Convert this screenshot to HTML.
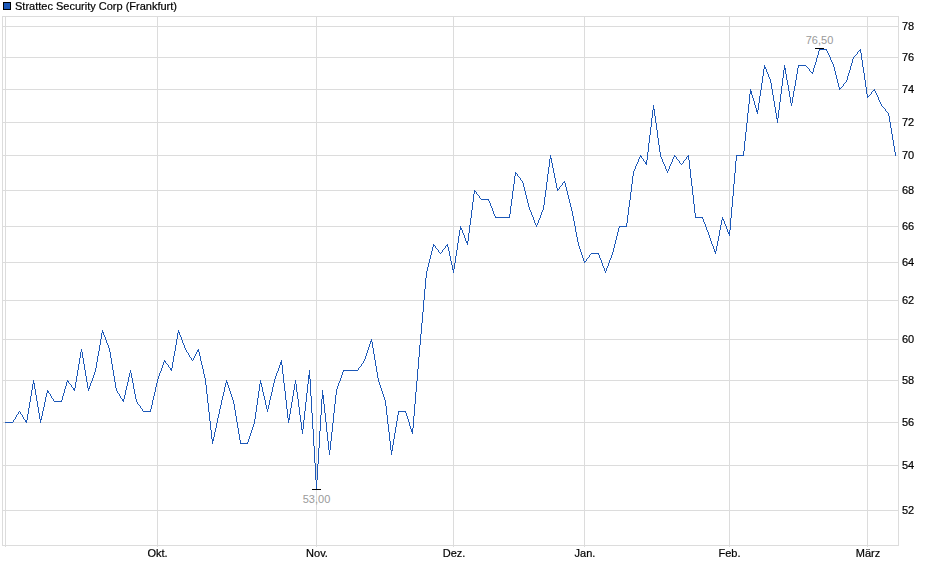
<!DOCTYPE html><html><head><meta charset="utf-8"><title>Strattec Security Corp (Frankfurt)</title>
<style>html,body{margin:0;padding:0;background:#fff;overflow:hidden}svg{display:block}text{font-family:"Liberation Sans",sans-serif;font-size:11px;fill:#000}</style></head><body>
<svg width="940" height="579" viewBox="0 0 940 579">
<rect x="0" y="0" width="940" height="579" fill="#fff"/>
<g shape-rendering="crispEdges" fill="#dcdcdc">
<rect x="3" y="510" width="895" height="1"/>
<rect x="3" y="465" width="895" height="1"/>
<rect x="3" y="422" width="895" height="1"/>
<rect x="3" y="380" width="895" height="1"/>
<rect x="3" y="339" width="895" height="1"/>
<rect x="3" y="300" width="895" height="1"/>
<rect x="3" y="262" width="895" height="1"/>
<rect x="3" y="226" width="895" height="1"/>
<rect x="3" y="190" width="895" height="1"/>
<rect x="3" y="155" width="895" height="1"/>
<rect x="3" y="122" width="895" height="1"/>
<rect x="3" y="89" width="895" height="1"/>
<rect x="3" y="57" width="895" height="1"/>
<rect x="3" y="26" width="895" height="1"/>
<rect x="5" y="17" width="1" height="530"/>
<rect x="157" y="17" width="1" height="530"/>
<rect x="316" y="17" width="1" height="530"/>
<rect x="453" y="17" width="1" height="530"/>
<rect x="584" y="17" width="1" height="530"/>
<rect x="729" y="17" width="1" height="530"/>
<rect x="867" y="17" width="1" height="530"/>
<rect x="2" y="16" width="897" height="1"/><rect x="2" y="545" width="897" height="1"/><rect x="2" y="16" width="1" height="530"/><rect x="898" y="16" width="1" height="530"/>
</g>
<path shape-rendering="crispEdges" fill="#1c58b8" d="M5 422h1v1h-1zM6 422h1v1h-1zM7 422h1v1h-1zM8 422h1v1h-1zM9 422h1v1h-1zM10 422h1v1h-1zM11 422h1v1h-1zM12 422h1v1h-1zM13 420h1v2h-1zM14 419h1v1h-1zM15 417h1v2h-1zM16 415h1v2h-1zM17 414h1v1h-1zM18 412h1v2h-1zM19 411h1v1h-1zM20 412h1v2h-1zM21 414h1v1h-1zM22 415h1v2h-1zM23 417h1v2h-1zM24 419h1v1h-1zM25 420h1v2h-1zM26 420h1v3h-1zM27 414h1v6h-1zM28 408h1v6h-1zM29 402h1v6h-1zM30 396h1v6h-1zM31 390h1v6h-1zM32 384h1v6h-1zM33 380h1v4h-1zM34 383h1v6h-1zM35 389h1v6h-1zM36 395h1v6h-1zM37 401h1v6h-1zM38 407h1v6h-1zM39 413h1v6h-1zM40 419h1v4h-1zM41 416h1v4h-1zM42 411h1v5h-1zM43 407h1v4h-1zM44 402h1v5h-1zM45 397h1v5h-1zM46 393h1v4h-1zM47 390h1v3h-1zM48 391h1v2h-1zM49 393h1v1h-1zM50 394h1v2h-1zM51 396h1v2h-1zM52 398h1v1h-1zM53 399h1v2h-1zM54 401h1v1h-1zM55 401h1v1h-1zM56 401h1v1h-1zM57 401h1v1h-1zM58 401h1v1h-1zM59 401h1v1h-1zM60 401h1v1h-1zM61 400h1v2h-1zM62 396h1v4h-1zM63 393h1v3h-1zM64 389h1v4h-1zM65 386h1v3h-1zM66 382h1v4h-1zM67 380h1v2h-1zM68 381h1v2h-1zM69 383h1v1h-1zM70 384h1v1h-1zM71 385h1v2h-1zM72 387h1v1h-1zM73 388h1v2h-1zM74 388h1v3h-1zM75 382h1v6h-1zM76 376h1v6h-1zM77 370h1v6h-1zM78 364h1v6h-1zM79 358h1v6h-1zM80 352h1v6h-1zM81 349h1v3h-1zM82 352h1v6h-1zM83 358h1v6h-1zM84 364h1v6h-1zM85 370h1v6h-1zM86 376h1v6h-1zM87 382h1v6h-1zM88 388h1v3h-1zM89 386h1v3h-1zM90 383h1v3h-1zM91 381h1v2h-1zM92 378h1v3h-1zM93 375h1v3h-1zM94 372h1v3h-1zM95 368h1v4h-1zM96 362h1v6h-1zM97 356h1v6h-1zM98 351h1v5h-1zM99 345h1v6h-1zM100 339h1v6h-1zM101 333h1v6h-1zM102 330h1v3h-1zM103 332h1v3h-1zM104 335h1v2h-1zM105 337h1v3h-1zM106 340h1v3h-1zM107 343h1v2h-1zM108 345h1v3h-1zM109 348h1v4h-1zM110 352h1v6h-1zM111 358h1v6h-1zM112 364h1v6h-1zM113 370h1v6h-1zM114 376h1v6h-1zM115 382h1v6h-1zM116 388h1v3h-1zM117 391h1v2h-1zM118 393h1v1h-1zM119 394h1v2h-1zM120 396h1v2h-1zM121 398h1v1h-1zM122 399h1v2h-1zM123 399h1v3h-1zM124 395h1v4h-1zM125 390h1v5h-1zM126 386h1v4h-1zM127 382h1v4h-1zM128 377h1v5h-1zM129 373h1v4h-1zM130 370h1v3h-1zM131 373h1v5h-1zM132 378h1v5h-1zM133 383h1v6h-1zM134 389h1v5h-1zM135 394h1v5h-1zM136 399h1v3h-1zM137 402h1v2h-1zM138 404h1v1h-1zM139 405h1v1h-1zM140 406h1v2h-1zM141 408h1v1h-1zM142 409h1v2h-1zM143 411h1v1h-1zM144 411h1v1h-1zM145 411h1v1h-1zM146 411h1v1h-1zM147 411h1v1h-1zM148 411h1v1h-1zM149 411h1v1h-1zM150 409h1v3h-1zM151 405h1v4h-1zM152 400h1v5h-1zM153 396h1v4h-1zM154 392h1v4h-1zM155 387h1v5h-1zM156 383h1v4h-1zM157 379h1v4h-1zM158 376h1v3h-1zM159 373h1v3h-1zM160 371h1v2h-1zM161 368h1v3h-1zM162 365h1v3h-1zM163 362h1v3h-1zM164 360h1v2h-1zM165 361h1v2h-1zM166 363h1v1h-1zM167 364h1v1h-1zM168 365h1v2h-1zM169 367h1v1h-1zM170 368h1v2h-1zM171 368h1v3h-1zM172 362h1v6h-1zM173 356h1v6h-1zM174 351h1v5h-1zM175 345h1v6h-1zM176 339h1v6h-1zM177 333h1v6h-1zM178 330h1v3h-1zM179 332h1v3h-1zM180 335h1v2h-1zM181 337h1v3h-1zM182 340h1v3h-1zM183 343h1v2h-1zM184 345h1v3h-1zM185 348h1v2h-1zM186 350h1v2h-1zM187 352h1v1h-1zM188 353h1v2h-1zM189 355h1v2h-1zM190 357h1v1h-1zM191 358h1v2h-1zM192 360h1v1h-1zM193 358h1v2h-1zM194 356h1v2h-1zM195 354h1v2h-1zM196 352h1v2h-1zM197 350h1v2h-1zM198 349h1v3h-1zM199 352h1v4h-1zM200 356h1v5h-1zM201 361h1v4h-1zM202 365h1v4h-1zM203 369h1v5h-1zM204 374h1v4h-1zM205 378h1v7h-1zM206 385h1v9h-1zM207 394h1v9h-1zM208 403h1v9h-1zM209 412h1v9h-1zM210 421h1v9h-1zM211 430h1v9h-1zM212 439h1v5h-1zM213 437h1v4h-1zM214 432h1v5h-1zM215 428h1v4h-1zM216 423h1v5h-1zM217 418h1v5h-1zM218 414h1v4h-1zM219 409h1v5h-1zM220 405h1v4h-1zM221 400h1v5h-1zM222 396h1v4h-1zM223 392h1v4h-1zM224 387h1v5h-1zM225 383h1v4h-1zM226 380h1v3h-1zM227 382h1v3h-1zM228 385h1v3h-1zM229 388h1v3h-1zM230 391h1v3h-1zM231 394h1v3h-1zM232 397h1v3h-1zM233 400h1v4h-1zM234 404h1v6h-1zM235 410h1v6h-1zM236 416h1v6h-1zM237 422h1v6h-1zM238 428h1v6h-1zM239 434h1v6h-1zM240 440h1v4h-1zM241 443h1v1h-1zM242 443h1v1h-1zM243 443h1v1h-1zM244 443h1v1h-1zM245 443h1v1h-1zM246 443h1v1h-1zM247 442h1v2h-1zM248 439h1v3h-1zM249 436h1v3h-1zM250 433h1v3h-1zM251 430h1v3h-1zM252 427h1v3h-1zM253 424h1v3h-1zM254 419h1v5h-1zM255 412h1v7h-1zM256 405h1v7h-1zM257 398h1v7h-1zM258 391h1v7h-1zM259 384h1v7h-1zM260 380h1v4h-1zM261 383h1v4h-1zM262 387h1v5h-1zM263 392h1v4h-1zM264 396h1v4h-1zM265 400h1v5h-1zM266 405h1v4h-1zM267 409h1v3h-1zM268 405h1v4h-1zM269 400h1v5h-1zM270 396h1v4h-1zM271 392h1v4h-1zM272 387h1v5h-1zM273 383h1v4h-1zM274 379h1v4h-1zM275 376h1v3h-1zM276 373h1v3h-1zM277 371h1v2h-1zM278 368h1v3h-1zM279 365h1v3h-1zM280 362h1v3h-1zM281 360h1v5h-1zM282 365h1v9h-1zM283 374h1v9h-1zM284 383h1v8h-1zM285 391h1v9h-1zM286 400h1v9h-1zM287 409h1v9h-1zM288 418h1v5h-1zM289 414h1v6h-1zM290 408h1v6h-1zM291 402h1v6h-1zM292 396h1v6h-1zM293 390h1v6h-1zM294 384h1v6h-1zM295 380h1v4h-1zM296 384h1v8h-1zM297 392h1v7h-1zM298 399h1v8h-1zM299 407h1v8h-1zM300 415h1v7h-1zM301 422h1v8h-1zM302 429h1v5h-1zM303 420h1v9h-1zM304 411h1v9h-1zM305 402h1v9h-1zM306 393h1v9h-1zM307 384h1v9h-1zM308 375h1v9h-1zM309 370h1v9h-1zM310 379h1v17h-1zM311 396h1v17h-1zM312 413h1v16h-1zM313 429h1v17h-1zM314 446h1v17h-1zM315 463h1v17h-1zM316 480h1v9h-1zM317 464h1v16h-1zM318 448h1v16h-1zM319 431h1v17h-1zM320 415h1v16h-1zM321 399h1v16h-1zM322 390h1v9h-1zM323 395h1v9h-1zM324 404h1v9h-1zM325 413h1v9h-1zM326 422h1v10h-1zM327 432h1v9h-1zM328 441h1v9h-1zM329 450h1v5h-1zM330 441h1v9h-1zM331 432h1v9h-1zM332 423h1v9h-1zM333 413h1v10h-1zM334 404h1v9h-1zM335 395h1v9h-1zM336 389h1v6h-1zM337 386h1v3h-1zM338 383h1v3h-1zM339 381h1v2h-1zM340 378h1v3h-1zM341 375h1v3h-1zM342 372h1v3h-1zM343 370h1v2h-1zM344 370h1v1h-1zM345 370h1v1h-1zM346 370h1v1h-1zM347 370h1v1h-1zM348 370h1v1h-1zM349 370h1v1h-1zM350 370h1v1h-1zM351 370h1v1h-1zM352 370h1v1h-1zM353 370h1v1h-1zM354 370h1v1h-1zM355 370h1v1h-1zM356 370h1v1h-1zM357 370h1v1h-1zM358 368h1v2h-1zM359 367h1v1h-1zM360 366h1v1h-1zM361 364h1v2h-1zM362 363h1v1h-1zM363 361h1v2h-1zM364 359h1v2h-1zM365 356h1v3h-1zM366 353h1v3h-1zM367 350h1v3h-1zM368 347h1v3h-1zM369 344h1v3h-1zM370 341h1v3h-1zM371 339h1v3h-1zM372 342h1v6h-1zM373 348h1v6h-1zM374 354h1v6h-1zM375 360h1v6h-1zM376 366h1v6h-1zM377 372h1v6h-1zM378 378h1v4h-1zM379 382h1v3h-1zM380 385h1v3h-1zM381 388h1v3h-1zM382 391h1v3h-1zM383 394h1v3h-1zM384 397h1v3h-1zM385 400h1v6h-1zM386 406h1v9h-1zM387 415h1v9h-1zM388 424h1v8h-1zM389 432h1v9h-1zM390 441h1v9h-1zM391 450h1v5h-1zM392 445h1v6h-1zM393 439h1v6h-1zM394 433h1v6h-1zM395 427h1v6h-1zM396 421h1v6h-1zM397 415h1v6h-1zM398 411h1v4h-1zM399 411h1v1h-1zM400 411h1v1h-1zM401 411h1v1h-1zM402 411h1v1h-1zM403 411h1v1h-1zM404 411h1v1h-1zM405 411h1v2h-1zM406 413h1v3h-1zM407 416h1v3h-1zM408 419h1v3h-1zM409 422h1v4h-1zM410 426h1v3h-1zM411 429h1v3h-1zM412 428h1v6h-1zM413 416h1v12h-1zM414 404h1v12h-1zM415 392h1v12h-1zM416 381h1v11h-1zM417 369h1v12h-1zM418 357h1v12h-1zM419 345h1v12h-1zM420 334h1v11h-1zM421 323h1v11h-1zM422 312h1v11h-1zM423 300h1v12h-1zM424 289h1v11h-1zM425 278h1v11h-1zM426 271h1v7h-1zM427 267h1v4h-1zM428 263h1v4h-1zM429 259h1v4h-1zM430 255h1v4h-1zM431 251h1v4h-1zM432 247h1v4h-1zM433 244h1v3h-1zM434 245h1v1h-1zM435 246h1v2h-1zM436 248h1v1h-1zM437 249h1v1h-1zM438 250h1v2h-1zM439 252h1v1h-1zM440 253h1v1h-1zM441 252h1v1h-1zM442 250h1v2h-1zM443 249h1v1h-1zM444 248h1v1h-1zM445 246h1v2h-1zM446 245h1v1h-1zM447 244h1v3h-1zM448 247h1v4h-1zM449 251h1v5h-1zM450 256h1v5h-1zM451 261h1v4h-1zM452 265h1v5h-1zM453 269h1v4h-1zM454 263h1v6h-1zM455 256h1v7h-1zM456 250h1v6h-1zM457 243h1v7h-1zM458 236h1v7h-1zM459 230h1v6h-1zM460 226h1v4h-1zM461 228h1v2h-1zM462 230h1v3h-1zM463 233h1v2h-1zM464 235h1v3h-1zM465 238h1v3h-1zM466 241h1v2h-1zM467 241h1v4h-1zM468 233h1v8h-1zM469 225h1v8h-1zM470 218h1v7h-1zM471 210h1v8h-1zM472 202h1v8h-1zM473 194h1v8h-1zM474 190h1v4h-1zM475 191h1v1h-1zM476 192h1v2h-1zM477 194h1v1h-1zM478 195h1v1h-1zM479 196h1v2h-1zM480 198h1v1h-1zM481 199h1v1h-1zM482 199h1v1h-1zM483 199h1v1h-1zM484 199h1v1h-1zM485 199h1v1h-1zM486 199h1v1h-1zM487 199h1v1h-1zM488 199h1v2h-1zM489 201h1v2h-1zM490 203h1v3h-1zM491 206h1v2h-1zM492 208h1v3h-1zM493 211h1v3h-1zM494 214h1v2h-1zM495 216h1v2h-1zM496 217h1v1h-1zM497 217h1v1h-1zM498 217h1v1h-1zM499 217h1v1h-1zM500 217h1v1h-1zM501 217h1v1h-1zM502 217h1v1h-1zM503 217h1v1h-1zM504 217h1v1h-1zM505 217h1v1h-1zM506 217h1v1h-1zM507 217h1v1h-1zM508 217h1v1h-1zM509 214h1v4h-1zM510 206h1v8h-1zM511 199h1v7h-1zM512 191h1v8h-1zM513 184h1v7h-1zM514 176h1v8h-1zM515 172h1v4h-1zM516 173h1v1h-1zM517 174h1v2h-1zM518 176h1v1h-1zM519 177h1v1h-1zM520 178h1v2h-1zM521 180h1v1h-1zM522 181h1v2h-1zM523 183h1v4h-1zM524 187h1v4h-1zM525 191h1v4h-1zM526 195h1v4h-1zM527 199h1v4h-1zM528 203h1v4h-1zM529 207h1v3h-1zM530 210h1v2h-1zM531 212h1v3h-1zM532 215h1v2h-1zM533 217h1v3h-1zM534 220h1v3h-1zM535 223h1v2h-1zM536 225h1v2h-1zM537 223h1v2h-1zM538 220h1v3h-1zM539 218h1v2h-1zM540 215h1v3h-1zM541 212h1v3h-1zM542 210h1v2h-1zM543 205h1v5h-1zM544 197h1v8h-1zM545 190h1v7h-1zM546 182h1v8h-1zM547 174h1v8h-1zM548 167h1v7h-1zM549 159h1v8h-1zM550 155h1v4h-1zM551 158h1v5h-1zM552 163h1v5h-1zM553 168h1v5h-1zM554 173h1v5h-1zM555 178h1v5h-1zM556 183h1v5h-1zM557 188h1v3h-1zM558 189h1v1h-1zM559 187h1v2h-1zM560 186h1v1h-1zM561 185h1v1h-1zM562 183h1v2h-1zM563 182h1v1h-1zM564 181h1v2h-1zM565 183h1v4h-1zM566 187h1v4h-1zM567 191h1v4h-1zM568 195h1v4h-1zM569 199h1v4h-1zM570 203h1v4h-1zM571 207h1v4h-1zM572 211h1v5h-1zM573 216h1v5h-1zM574 221h1v5h-1zM575 226h1v6h-1zM576 232h1v5h-1zM577 237h1v5h-1zM578 242h1v4h-1zM579 246h1v3h-1zM580 249h1v3h-1zM581 252h1v3h-1zM582 255h1v3h-1zM583 258h1v3h-1zM584 261h1v2h-1zM585 261h1v1h-1zM586 259h1v2h-1zM587 258h1v1h-1zM588 257h1v1h-1zM589 255h1v2h-1zM590 254h1v1h-1zM591 253h1v1h-1zM592 253h1v1h-1zM593 253h1v1h-1zM594 253h1v1h-1zM595 253h1v1h-1zM596 253h1v1h-1zM597 253h1v1h-1zM598 253h1v2h-1zM599 255h1v3h-1zM600 258h1v2h-1zM601 260h1v3h-1zM602 263h1v3h-1zM603 266h1v2h-1zM604 268h1v3h-1zM605 271h1v2h-1zM606 268h1v3h-1zM607 266h1v2h-1zM608 263h1v3h-1zM609 260h1v3h-1zM610 258h1v2h-1zM611 255h1v3h-1zM612 252h1v3h-1zM613 248h1v4h-1zM614 244h1v4h-1zM615 240h1v4h-1zM616 236h1v4h-1zM617 232h1v4h-1zM618 228h1v4h-1zM619 226h1v2h-1zM620 226h1v1h-1zM621 226h1v1h-1zM622 226h1v1h-1zM623 226h1v1h-1zM624 226h1v1h-1zM625 226h1v1h-1zM626 223h1v4h-1zM627 215h1v8h-1zM628 207h1v8h-1zM629 200h1v7h-1zM630 192h1v8h-1zM631 184h1v8h-1zM632 176h1v8h-1zM633 171h1v5h-1zM634 169h1v2h-1zM635 166h1v3h-1zM636 164h1v2h-1zM637 162h1v2h-1zM638 159h1v3h-1zM639 157h1v2h-1zM640 155h1v2h-1zM641 156h1v2h-1zM642 158h1v1h-1zM643 159h1v2h-1zM644 161h1v1h-1zM645 162h1v2h-1zM646 160h1v5h-1zM647 152h1v8h-1zM648 143h1v9h-1zM649 135h1v8h-1zM650 127h1v8h-1zM651 118h1v9h-1zM652 110h1v8h-1zM653 105h1v5h-1zM654 109h1v7h-1zM655 116h1v7h-1zM656 123h1v7h-1zM657 130h1v8h-1zM658 138h1v7h-1zM659 145h1v7h-1zM660 152h1v5h-1zM661 157h1v2h-1zM662 159h1v3h-1zM663 162h1v2h-1zM664 164h1v2h-1zM665 166h1v3h-1zM666 169h1v2h-1zM667 171h1v2h-1zM668 169h1v2h-1zM669 166h1v3h-1zM670 164h1v2h-1zM671 162h1v2h-1zM672 159h1v3h-1zM673 157h1v2h-1zM674 155h1v2h-1zM675 156h1v1h-1zM676 157h1v2h-1zM677 159h1v1h-1zM678 160h1v1h-1zM679 161h1v2h-1zM680 163h1v1h-1zM681 164h1v1h-1zM682 163h1v1h-1zM683 161h1v2h-1zM684 160h1v1h-1zM685 159h1v1h-1zM686 157h1v2h-1zM687 156h1v1h-1zM688 155h1v5h-1zM689 160h1v9h-1zM690 169h1v9h-1zM691 178h1v8h-1zM692 186h1v9h-1zM693 195h1v9h-1zM694 204h1v9h-1zM695 213h1v5h-1zM696 217h1v1h-1zM697 217h1v1h-1zM698 217h1v1h-1zM699 217h1v1h-1zM700 217h1v1h-1zM701 217h1v1h-1zM702 217h1v2h-1zM703 219h1v3h-1zM704 222h1v2h-1zM705 224h1v3h-1zM706 227h1v3h-1zM707 230h1v2h-1zM708 232h1v3h-1zM709 235h1v3h-1zM710 238h1v3h-1zM711 241h1v3h-1zM712 244h1v2h-1zM713 246h1v3h-1zM714 249h1v3h-1zM715 251h1v3h-1zM716 246h1v5h-1zM717 241h1v5h-1zM718 236h1v5h-1zM719 230h1v6h-1zM720 225h1v5h-1zM721 220h1v5h-1zM722 217h1v3h-1zM723 219h1v2h-1zM724 221h1v3h-1zM725 224h1v2h-1zM726 226h1v3h-1zM727 229h1v3h-1zM728 232h1v2h-1zM729 230h1v6h-1zM730 218h1v12h-1zM731 207h1v11h-1zM732 196h1v11h-1zM733 184h1v12h-1zM734 173h1v11h-1zM735 161h1v12h-1zM736 155h1v6h-1zM737 155h1v1h-1zM738 155h1v1h-1zM739 155h1v1h-1zM740 155h1v1h-1zM741 155h1v1h-1zM742 155h1v1h-1zM743 151h1v5h-1zM744 141h1v10h-1zM745 132h1v9h-1zM746 123h1v9h-1zM747 113h1v10h-1zM748 104h1v9h-1zM749 94h1v10h-1zM750 89h1v5h-1zM751 91h1v4h-1zM752 95h1v3h-1zM753 98h1v3h-1zM754 101h1v4h-1zM755 105h1v3h-1zM756 108h1v4h-1zM757 110h1v4h-1zM758 103h1v7h-1zM759 96h1v7h-1zM760 90h1v6h-1zM761 83h1v7h-1zM762 76h1v7h-1zM763 69h1v7h-1zM764 65h1v4h-1zM765 67h1v2h-1zM766 69h1v3h-1zM767 72h1v2h-1zM768 74h1v3h-1zM769 77h1v2h-1zM770 79h1v4h-1zM771 83h1v6h-1zM772 89h1v6h-1zM773 95h1v6h-1zM774 101h1v6h-1zM775 107h1v6h-1zM776 113h1v6h-1zM777 118h1v5h-1zM778 110h1v8h-1zM779 102h1v8h-1zM780 94h1v8h-1zM781 86h1v8h-1zM782 78h1v8h-1zM783 70h1v8h-1zM784 65h1v5h-1zM785 68h1v6h-1zM786 74h1v6h-1zM787 80h1v5h-1zM788 85h1v6h-1zM789 91h1v6h-1zM790 97h1v6h-1zM791 103h1v3h-1zM792 97h1v6h-1zM793 91h1v6h-1zM794 86h1v5h-1zM795 80h1v6h-1zM796 74h1v6h-1zM797 68h1v6h-1zM798 65h1v3h-1zM799 65h1v1h-1zM800 65h1v1h-1zM801 65h1v1h-1zM802 65h1v1h-1zM803 65h1v1h-1zM804 65h1v1h-1zM805 65h1v1h-1zM806 66h1v1h-1zM807 67h1v1h-1zM808 68h1v1h-1zM809 69h1v2h-1zM810 71h1v1h-1zM811 72h1v1h-1zM812 72h1v2h-1zM813 68h1v4h-1zM814 65h1v3h-1zM815 62h1v3h-1zM816 58h1v4h-1zM817 55h1v3h-1zM818 51h1v4h-1zM819 49h1v2h-1zM820 49h1v1h-1zM821 49h1v1h-1zM822 49h1v1h-1zM823 49h1v1h-1zM824 49h1v1h-1zM825 49h1v1h-1zM826 49h1v2h-1zM827 51h1v2h-1zM828 53h1v2h-1zM829 55h1v2h-1zM830 57h1v3h-1zM831 60h1v2h-1zM832 62h1v2h-1zM833 64h1v3h-1zM834 67h1v4h-1zM835 71h1v4h-1zM836 75h1v4h-1zM837 79h1v4h-1zM838 83h1v4h-1zM839 87h1v3h-1zM840 88h1v1h-1zM841 87h1v1h-1zM842 86h1v1h-1zM843 84h1v2h-1zM844 83h1v1h-1zM845 82h1v1h-1zM846 80h1v2h-1zM847 76h1v4h-1zM848 73h1v3h-1zM849 70h1v3h-1zM850 66h1v4h-1zM851 63h1v3h-1zM852 59h1v4h-1zM853 57h1v2h-1zM854 56h1v1h-1zM855 55h1v1h-1zM856 54h1v1h-1zM857 52h1v2h-1zM858 51h1v1h-1zM859 50h1v1h-1zM860 49h1v4h-1zM861 53h1v7h-1zM862 60h1v7h-1zM863 67h1v6h-1zM864 73h1v7h-1zM865 80h1v7h-1zM866 87h1v7h-1zM867 94h1v4h-1zM868 96h1v1h-1zM869 95h1v1h-1zM870 94h1v1h-1zM871 92h1v2h-1zM872 91h1v1h-1zM873 90h1v1h-1zM874 89h1v2h-1zM875 91h1v2h-1zM876 93h1v2h-1zM877 95h1v2h-1zM878 97h1v3h-1zM879 100h1v2h-1zM880 102h1v2h-1zM881 104h1v2h-1zM882 106h1v1h-1zM883 107h1v1h-1zM884 108h1v1h-1zM885 109h1v2h-1zM886 111h1v1h-1zM887 112h1v1h-1zM888 113h1v3h-1zM889 116h1v6h-1zM890 122h1v6h-1zM891 128h1v6h-1zM892 134h1v6h-1zM893 140h1v6h-1zM894 146h1v6h-1zM895 152h1v4h-1z"/>
<g shape-rendering="crispEdges" fill="#000"><rect x="312" y="489" width="9" height="1"/><rect x="815" y="48" width="9" height="1"/></g>
<text x="316.5" y="503" text-anchor="middle" style="fill:#9a9a9a">53,00</text>
<text x="819.5" y="44" text-anchor="middle" style="fill:#9a9a9a">76,50</text>
<rect x="3.5" y="2.5" width="7" height="7" fill="#1c58b8" stroke="#000" stroke-width="1" shape-rendering="crispEdges"/>
<g style="filter:grayscale(1)" stroke="#000" stroke-width="0.2">
<text x="15" y="10">Strattec Security Corp (Frankfurt)</text>
<text x="902" y="514">52</text>
<text x="902" y="469">54</text>
<text x="902" y="426">56</text>
<text x="902" y="384">58</text>
<text x="902" y="343">60</text>
<text x="902" y="304">62</text>
<text x="902" y="266">64</text>
<text x="902" y="230">66</text>
<text x="902" y="194">68</text>
<text x="902" y="159">70</text>
<text x="902" y="126">72</text>
<text x="902" y="93">74</text>
<text x="902" y="61">76</text>
<text x="902" y="30">78</text>
<text x="157.5" y="557" text-anchor="middle">Okt.</text>
<text x="317.0" y="557" text-anchor="middle">Nov.</text>
<text x="454.0" y="557" text-anchor="middle">Dez.</text>
<text x="585.0" y="557" text-anchor="middle">Jan.</text>
<text x="729.5" y="557" text-anchor="middle">Feb.</text>
<text x="868.0" y="557" text-anchor="middle">März</text>
</g>
</svg></body></html>
